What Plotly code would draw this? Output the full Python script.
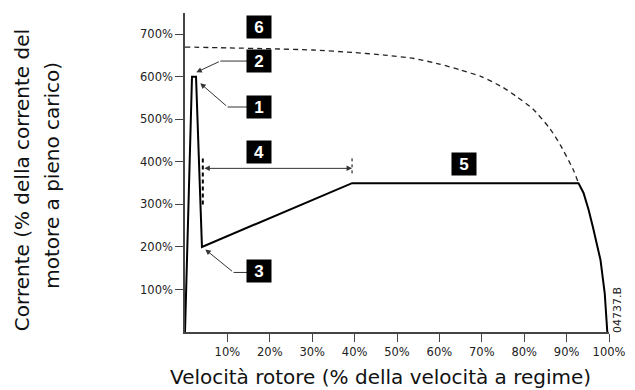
import plotly.graph_objects as go

# ---- data ----
speed_pct = [0, 1.65, 2.6, 4.0, 39.4, 92.8, 94.0, 95.2, 96.2, 97.2, 98.0, 99.0, 99.6]
current_pct = [0, 600, 600, 200, 350, 350, 327, 287, 247, 205, 169, 90, 0]

dol_speed = [0, 10, 20, 30, 40, 47, 54, 60, 65, 70, 75, 78, 82, 86, 88.5, 91.6, 92.8]
dol_current = [670, 668, 666, 663, 657, 651, 643, 630, 616, 600, 575, 555, 525, 479, 440, 381, 350]

x_ticks = [10, 20, 30, 40, 50, 60, 70, 80, 90, 100]
x_labels = ["10%", "20%", "30%", "40%", "50%", "60%", "70%", "80%", "90%", "100%"]
y_ticks = [100, 200, 300, 400, 500, 600, 700]
y_labels = ["100%", "200%", "300%", "400%", "500%", "600%", "700%"]

FONT = "DejaVu Sans"
AX = "#444444"

fig = go.Figure()
fig.add_trace(go.Scatter(x=dol_speed, y=dol_current, mode="lines",
                         line=dict(color="#222222", width=1.3, dash="5px,4px", shape="spline", smoothing=0.6),
                         hoverinfo="skip", showlegend=False))
fig.add_trace(go.Scatter(x=speed_pct, y=current_pct, mode="lines",
                         line=dict(color="black", width=2),
                         hoverinfo="skip", showlegend=False))

shapes = []
# horizontal leader segments
for (x0, x1, yy) in [(10.05, 14.7, 529), (8.33, 14.7, 637), (11.46, 14.7, 140)]:
    shapes.append(dict(type="line", xref="x", yref="y", x0=x0, x1=x1, y0=yy, y1=yy,
                       line=dict(color="#333333", width=1)))
# dashed vertical markers for region 4
shapes.append(dict(type="line", xref="x", yref="y", x0=4.2, x1=4.2, y0=300, y1=412,
                   line=dict(color="black", width=2, dash="4px,3px")))
shapes.append(dict(type="line", xref="x", yref="y", x0=39.4, x1=39.4, y0=373, y1=409,
                   line=dict(color="black", width=1, dash="3px,3px")))

annotations = []
# arrows
for (hx, hy, tx, ty) in [(3.6, 584.7, 10.05, 529), (2.67, 610.6, 8.33, 637), (4.79, 194, 11.46, 140)]:
    annotations.append(dict(x=hx, y=hy, ax=tx, ay=ty, xref="x", yref="y", axref="x", ayref="y",
                            text="", showarrow=True, arrowhead=2, arrowsize=1.1, arrowwidth=1,
                            arrowcolor="#333333"))
annotations.append(dict(x=39.4, y=384.7, ax=4.2, ay=384.7, xref="x", yref="y", axref="x", ayref="y",
                        text="", showarrow=True, arrowhead=2, startarrowhead=2, arrowside="end+start",
                        arrowsize=1.1, startarrowsize=1.1, arrowwidth=1, arrowcolor="#333333"))
# numbered boxes
for (label, bx, by) in [("6", 17.5, 718), ("2", 17.5, 636), ("1", 17.5, 530),
                        ("4", 17.5, 423), ("3", 17.5, 144), ("5", 65.9, 395)]:
    annotations.append(dict(x=bx, y=by, xref="x", yref="y", text="<b>%s</b>" % label,
                            showarrow=False, bgcolor="black", borderpad=1, width=22, height=20,
                            font=dict(family="Arial", size=17, color="white"),
                            xanchor="center", yanchor="middle"))
# axis titles
annotations.append(dict(x=0, y=0.476, xref="paper", yref="paper", xshift=-163,
                        text="Corrente (% della corrente del", textangle=-90, showarrow=False,
                        font=dict(family=FONT, size=20, color="#111111"),
                        xanchor="center", yanchor="middle"))
annotations.append(dict(x=0, y=0.49, xref="paper", yref="paper", xshift=-133,
                        text="motore a pieno carico)", textangle=-90, showarrow=False,
                        font=dict(family=FONT, size=20, color="#111111"),
                        xanchor="center", yanchor="middle"))
annotations.append(dict(x=0.461, y=0, xref="paper", yref="paper", yshift=-45,
                        text="Velocità rotore (% della velocità a regime)", showarrow=False,
                        font=dict(family=FONT, size=20, color="#111111"),
                        xanchor="center", yanchor="middle"))
annotations.append(dict(x=1, y=0, xref="paper", yref="paper", xshift=8, yshift=22,
                        text="04737.B", textangle=-90, showarrow=False,
                        font=dict(family=FONT, size=11, color="#222222"),
                        xanchor="center", yanchor="middle"))

fig.update_layout(
    width=627, height=382,
    margin=dict(l=177, r=26, t=5, b=58),
    paper_bgcolor="white", plot_bgcolor="white",
    showlegend=False,
    shapes=shapes, annotations=annotations,
    xaxis=dict(range=[0, 100], tickvals=x_ticks, ticktext=x_labels, showgrid=False, zeroline=False,
               showline=True, linecolor=AX, linewidth=1.5, ticks="outside", ticklen=8,
               tickcolor=AX, tickwidth=1.3, tickfont=dict(family=FONT, size=11.5, color="#222222")),
    yaxis=dict(range=[0, 750], tickvals=y_ticks, ticktext=y_labels, showgrid=False, zeroline=False,
               showline=True, linecolor=AX, linewidth=1.5, ticks="outside", ticklen=8,
               tickcolor=AX, tickwidth=1.3, tickfont=dict(family=FONT, size=11.5, color="#222222")),
)

fig.write_html("out.html")
